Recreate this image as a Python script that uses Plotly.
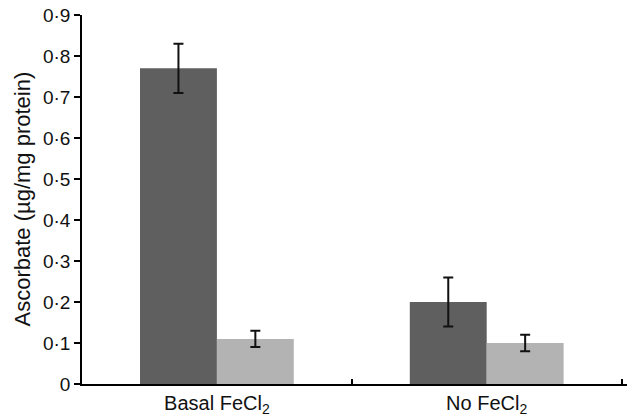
import plotly.graph_objects as go

categories = ["Basal FeCl<sub>2</sub>", "No FeCl<sub>2</sub>"]
dark_values = [0.77, 0.20]
dark_errors = [0.06, 0.06]
light_values = [0.11, 0.10]
light_errors = [0.02, 0.02]
y_tickvals = [0, 0.1, 0.2, 0.3, 0.4, 0.5, 0.6, 0.7, 0.8, 0.9]
y_ticktext = ["0", "0·1", "0·2", "0·3", "0·4", "0·5", "0·6", "0·7", "0·8", "0·9"]
y_title = "Ascorbate (µg/mg protein)"

fig = go.Figure()
fig.add_trace(go.Bar(
    x=categories, y=dark_values, marker=dict(color="#5f5f5f", line=dict(width=0)),
    error_y=dict(type="data", array=dark_errors, color="#111111", thickness=2, width=5),
))
fig.add_trace(go.Bar(
    x=categories, y=light_values, marker=dict(color="#b3b3b3", line=dict(width=0)),
    error_y=dict(type="data", array=light_errors, color="#111111", thickness=2, width=5),
))

fig.update_layout(
    width=627, height=420,
    margin=dict(l=82, r=0, t=15, b=36),
    paper_bgcolor="white", plot_bgcolor="white",
    barmode="group", bargap=0.43, bargroupgap=0,
    showlegend=False,
    font=dict(family="Liberation Sans, Arial, sans-serif", size=20, color="#111111"),
)
fig.update_xaxes(
    range=[-0.5, 1.52], showline=True, linecolor="black", linewidth=1.5,
    tickson="boundaries", ticks="inside", ticklen=5, tickcolor="black", tickwidth=1.5,
    showgrid=False, zeroline=False, tickfont=dict(size=20), automargin=False,
)
fig.update_yaxes(
    range=[0, 0.9], tickvals=y_tickvals, ticktext=y_ticktext,
    showline=True, linecolor="black", linewidth=1.5,
    ticks="outside", ticklen=6, tickcolor="black", tickwidth=1.5,
    showgrid=False, zeroline=False, tickfont=dict(size=19), automargin=False,
    ticklabeloverflow="allow",
)
fig.add_annotation(
    text=y_title, xref="paper", yref="paper", x=0, y=0.5,
    xanchor="center", yanchor="middle", xshift=-60, textangle=-90,
    showarrow=False, font=dict(size=22),
)

fig.write_html(
    "out.html",
    config={"displayModeBar": False},
    post_script="document.body.style.margin='0';document.body.style.overflow='hidden';",
)
